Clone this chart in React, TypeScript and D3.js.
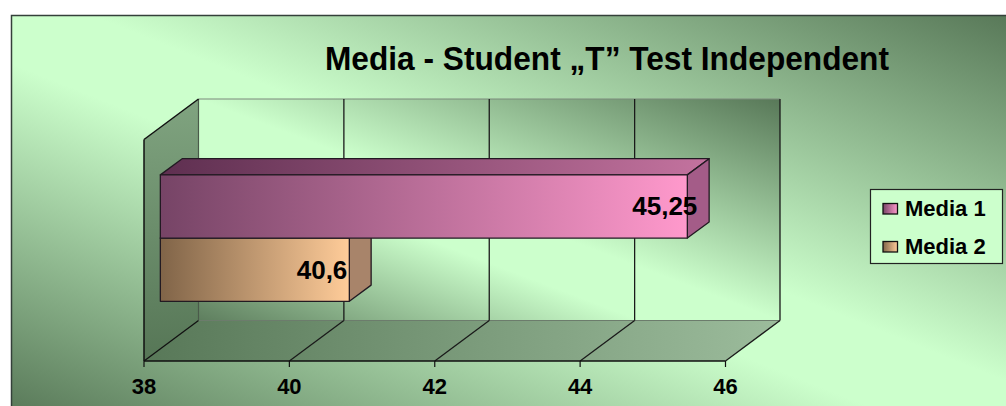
import React from "react";
import * as d3 from "d3";

// ---- data ----
const title = "Media - Student \u201ET\u201D Test Independent";
const categories = ["Media"];
const seriesNames = ["Media 1", "Media 2"];
const seriesValues = [45.25, 40.6];
const valueLabels = ["45,25", "40,6"];
const xTicks = [38, 40, 42, 44, 46];
const xDomain = [38, 46];

// ---- styles ----
const seriesStyle = [
  { front: ["#764466", "#ff99cc"], top: ["#5e2f50", "#c4739f"], side: "#a45c88", labelDx: 10 },
  { front: ["#806448", "#ffcc99"], top: ["#6e5238", "#d8a878"], side: "#a8846a", labelDx: -2 },
];
const FONT = "'Liberation Sans', Arial, Helvetica, sans-serif";
const W = 1006, H = 406;
const DX = 54.5, DY = -40.5; // full depth offset
const BAR_F = 0.3, BAR_B = 0.7; // bar depth fractions
const frontTop = 139.5, frontBottom = 361;

export default function App() {
  const x = d3.scaleLinear().domain(xDomain).range([144, 725.5]);
  const groupBand = d3
    .scaleBand<string>()
    .domain(categories)
    .range([frontTop + BAR_F * DY, frontBottom + BAR_F * DY])
    .paddingInner(0)
    .paddingOuter(0.376);
  const sBand = d3.scaleBand<string>().domain(seriesNames).range([0, groupBand.bandwidth()]);

  const x0 = x(xDomain[0]);
  const x1 = x(xDomain[1]);
  const backTop = frontTop + DY, backBottom = frontBottom + DY;
  const pts = (p: number[][]) => p.map((q) => q.join(",")).join(" ");
  const ddx = (BAR_B - BAR_F) * DX, ddy = (BAR_B - BAR_F) * DY;

  const bars = seriesNames.map((name, i) => {
    const v = seriesValues[i];
    const bx0 = x(xDomain[0]) + BAR_F * DX;
    const bx1 = x(v) + BAR_F * DX;
    const by0 = groupBand(categories[0])! + sBand(name)!;
    const by1 = by0 + sBand.bandwidth();
    return { name, i, v, bx0, bx1, by0, by1 };
  });

  return (
    <svg
      width={W}
      height={H}
      style={{ position: "absolute", left: 0, top: 0, background: "#fff" }}
    >
      <defs>
        <linearGradient id="bgGrad" x1="1" y1="0" x2="0" y2="1">
          <stop offset="0" stopColor="#587858" />
          <stop offset="0.46" stopColor="#ccffcc" />
          <stop offset="0.56" stopColor="#ccffcc" />
          <stop offset="1" stopColor="#587858" />
        </linearGradient>
        <linearGradient id="wallGrad" x1="1" y1="0" x2="0" y2="1">
          <stop offset="0" stopColor="#587858" />
          <stop offset="0.5" stopColor="#ccffcc" />
          <stop offset="0.62" stopColor="#ccffcc" />
          <stop offset="1" stopColor="#5e7e5e" />
        </linearGradient>
        <linearGradient id="leftWallGrad" x1="0" y1="0" x2="0" y2="1">
          <stop offset="0" stopColor="#80a480" />
          <stop offset="1" stopColor="#567656" />
        </linearGradient>
        <linearGradient id="floorGrad" x1="0" y1="0" x2="1" y2="0">
          <stop offset="0" stopColor="#587858" />
          <stop offset="1" stopColor="#9cbc9c" />
        </linearGradient>
        {seriesStyle.map((s, i) => (
          <React.Fragment key={i}>
            <linearGradient id={`front${i}`} x1="0" y1="0" x2="1" y2="0">
              <stop offset="0" stopColor={s.front[0]} />
              <stop offset="1" stopColor={s.front[1]} />
            </linearGradient>
            <linearGradient id={`top${i}`} x1="0" y1="0" x2="1" y2="0">
              <stop offset="0" stopColor={s.top[0]} />
              <stop offset="1" stopColor={s.top[1]} />
            </linearGradient>
          </React.Fragment>
        ))}
      </defs>

      {/* chart area */}
      <rect x={11.5} y={15.5} width={1000} height={400} fill="url(#bgGrad)" stroke="#34403a" strokeWidth={1.5} />

      {/* title */}
      <text
        x={607}
        y={70}
        textAnchor="middle"
        fontFamily={FONT}
        fontWeight="bold"
        fontSize={33}
        textLength={564}
        lengthAdjust="spacingAndGlyphs"
        fill="#000"
      >
        {title}
      </text>

      {/* back wall */}
      <rect x={x0 + DX} y={backTop} width={x1 - x0} height={backBottom - backTop} fill="url(#wallGrad)" />
      {/* left wall */}
      <polygon
        points={pts([[x0, frontTop], [x0 + DX, backTop], [x0 + DX, backBottom], [x0, frontBottom]])}
        fill="url(#leftWallGrad)"
      />
      {/* floor */}
      <polygon
        points={pts([[x0, frontBottom], [x1, frontBottom], [x1 + DX, backBottom], [x0 + DX, backBottom]])}
        fill="url(#floorGrad)"
      />
      {/* wall edges */}
      <line x1={x0 + DX} y1={backTop} x2={x1 + DX} y2={backTop} stroke="#7d8a7d" strokeWidth={1.2} />
      <line x1={x0 + DX} y1={backTop} x2={x0 + DX} y2={backBottom} stroke="#4a5a4a" strokeWidth={1.2} />
      <line x1={x0 + DX} y1={backBottom} x2={x1 + DX} y2={backBottom} stroke="#6c7c6c" strokeWidth={1.2} />

      {/* gridlines */}
      {xTicks.slice(1).map((t) => (
        <g key={t}>
          <line x1={x(t) + DX} y1={backTop} x2={x(t) + DX} y2={backBottom} stroke="#1a1a1a" strokeWidth={1.3} />
          <line x1={x(t)} y1={frontBottom} x2={x(t) + DX} y2={backBottom} stroke="#1a1a1a" strokeWidth={1.3} />
        </g>
      ))}
      {/* left wall front edges */}
      <line x1={x0} y1={frontTop} x2={x0 + DX} y2={backTop} stroke="#111" strokeWidth={1.5} />
      <line x1={x0} y1={frontTop} x2={x0} y2={frontBottom} stroke="#111" strokeWidth={1.5} />
      <line x1={x0} y1={frontBottom} x2={x0 + DX} y2={backBottom} stroke="#111" strokeWidth={1.3} />

      {/* axis */}
      <line x1={x0} y1={frontBottom} x2={x1} y2={frontBottom} stroke="#111" strokeWidth={1.5} />
      {xTicks.map((t) => (
        <g key={t}>
          <line x1={x(t)} y1={frontBottom} x2={x(t)} y2={frontBottom + 6} stroke="#111" strokeWidth={1.2} />
          <text
            x={x(t)}
            y={393.5}
            textAnchor="middle"
            fontFamily={FONT}
            fontWeight="bold"
            fontSize={22}
            fill="#000"
          >
            {t}
          </text>
        </g>
      ))}

      {/* bars: bottom first */}
      {[...bars].reverse().map((b) => {
        const s = seriesStyle[b.i];
        return (
          <g key={b.name} stroke="#221a22" strokeWidth={1.3} strokeLinejoin="round">
            <polygon
              points={pts([[b.bx0, b.by0], [b.bx1, b.by0], [b.bx1 + ddx, b.by0 + ddy], [b.bx0 + ddx, b.by0 + ddy]])}
              fill={`url(#top${b.i})`}
            />
            <polygon
              points={pts([[b.bx1, b.by0], [b.bx1 + ddx, b.by0 + ddy], [b.bx1 + ddx, b.by1 + ddy], [b.bx1, b.by1]])}
              fill={s.side}
            />
            <rect x={b.bx0} y={b.by0} width={b.bx1 - b.bx0} height={b.by1 - b.by0} fill={`url(#front${b.i})`} />
          </g>
        );
      })}
      {bars.map((b) => (
        <text
          key={b.name}
          x={b.bx1 + seriesStyle[b.i].labelDx}
          y={(b.by0 + b.by1) / 2 + 9}
          textAnchor="end"
          fontFamily={FONT}
          fontWeight="bold"
          fontSize={26}
          fill="#000"
        >
          {valueLabels[b.i]}
        </text>
      ))}

      {/* legend */}
      <rect x={870.5} y={189.5} width={132} height={74} fill="#ccffcc" stroke="#222" strokeWidth={1.2} />
      {seriesNames.map((name, i) => (
        <g key={name}>
          <rect
            x={883}
            y={203.5 + i * 38}
            width={14.5}
            height={10.5}
            fill={`url(#front${i})`}
            stroke="#111"
            strokeWidth={1.3}
          />
          <text x={905} y={216 + i * 37.5} fontFamily={FONT} fontWeight="bold" fontSize={22} fill="#000">
            {name}
          </text>
        </g>
      ))}
    </svg>
  );
}
